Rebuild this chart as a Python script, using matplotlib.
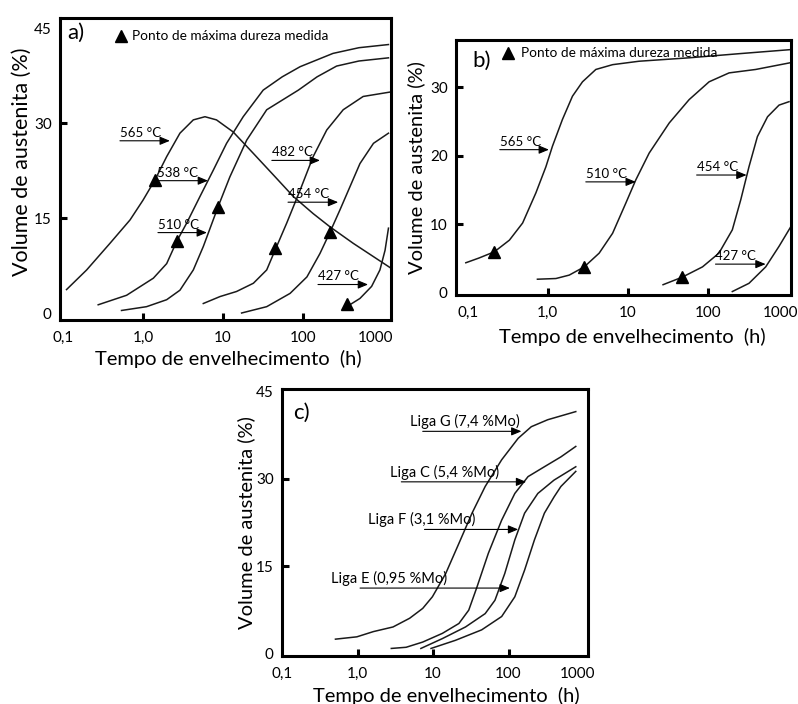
import numpy as np
import matplotlib
matplotlib.use("Agg")
import matplotlib.pyplot as plt
import matplotlib.transforms as mtransforms

plt.rcParams['font.family'] = ['Lato', 'DejaVu Sans']

# ---- dados ----
# a)
a565_x = [0.111, 0.198, 0.387, 0.69, 1.0, 1.41, 1.98, 2.9, 4.26, 5.96, 8.3, 13.4, 24, 42.7, 75.7, 134, 218, 425, 760, 1250]
a565_y = [3.7, 6.8, 11.0, 14.7, 17.8, 21.0, 24.7, 28.4, 30.5, 31.0, 30.5, 28.6, 25.2, 21.8, 18.4, 15.7, 13.6, 11.0, 8.9, 7.1]
a538_x = [0.276, 0.625, 1.35, 1.98, 2.64, 3.52, 5.16, 7.6, 11.1, 17.9, 31.8, 55, 92, 237, 500, 1170]
a538_y = [1.3, 2.8, 5.5, 7.8, 11.3, 14.2, 18.4, 22.6, 26.8, 31.0, 35.2, 37.3, 38.9, 41.0, 41.9, 42.4]
a510_x = [0.54, 1.11, 1.98, 2.9, 4.26, 5.68, 8.7, 12.2, 19.8, 35.2, 87.5, 150, 263, 500, 1170]
a510_y = [0.4, 1.0, 2.1, 3.6, 6.8, 10.5, 16.8, 21.5, 27.3, 32.1, 35.2, 37.3, 39.0, 39.8, 40.3]
a482_x = [5.68, 9.2, 14.8, 24, 35.2, 44.7, 62.6, 92, 134, 198, 318, 565, 1230]
a482_y = [1.5, 2.6, 3.4, 4.7, 6.8, 9.9, 14.2, 19.4, 24.7, 28.9, 32.1, 34.2, 34.9]
a454_x = [17.1, 35.2, 69, 112, 163, 218, 290, 385, 515, 760, 1170]
a454_y = [0.0, 1.0, 3.1, 5.7, 9.4, 12.8, 16.3, 19.9, 23.6, 26.8, 28.4]
a427_x = [1170, 1060, 915, 720, 515, 385]
a427_y = [13.4, 9.9, 6.8, 4.2, 2.3, 1.3]
a_tri_x = [1.41, 2.64, 8.7, 44.7, 218, 352]
a_tri_y = [21.0, 11.3, 16.8, 10.2, 12.8, 1.5]
a_rot = ['565 °C', '538 °C', '510 °C', '482 °C', '454 °C', '427 °C']
a_seta_x0 = [0.516, 1.5, 1.54, 40.8, 65, 154]
a_seta_x1 = [2.17, 6.5, 6.3, 163, 275, 650]
a_seta_y = [27.2, 20.9, 12.7, 24.1, 17.5, 4.5]

# b)
b565_x = [0.094, 0.138, 0.214, 0.33, 0.483, 0.708, 0.944, 1.14, 1.52, 2.03, 2.71, 3.98, 6.45, 13.8, 58.5, 246, 1100]
b565_y = [4.4, 5.1, 6.0, 7.7, 10.2, 14.6, 18.4, 21.4, 25.3, 28.7, 30.8, 32.6, 33.3, 33.8, 34.3, 34.9, 35.5]
b510_x = [0.74, 1.26, 1.85, 2.85, 4.38, 6.45, 9.44, 12.6, 18.5, 33, 58.5, 104, 185, 398, 1100]
b510_y = [2.0, 2.1, 2.6, 3.8, 5.8, 8.7, 13.1, 16.5, 20.4, 24.8, 28.2, 30.8, 32.1, 32.6, 33.6]
b454_x = [27.6, 48, 86, 138, 203, 259, 328, 418, 560, 780, 1040]
b454_y = [1.2, 2.3, 3.8, 5.8, 9.2, 13.6, 18.4, 22.8, 25.7, 27.4, 27.9]
b427_x = [203, 328, 531, 780, 1100]
b427_y = [0.2, 1.4, 3.8, 6.8, 9.7]
b_tri_x = [0.214, 2.85, 48]
b_tri_y = [6.0, 3.8, 2.3]
b_rot = ['565 °C', '510 °C', '454 °C', '427 °C']
b_seta_x0 = [0.25, 2.98, 72.6, 125]
b_seta_x1 = [1.03, 12.6, 306, 530]
b_seta_y = [20.9, 16.2, 17.2, 4.2]

# c)
cG_x = [0.51, 0.98, 1.62, 2.95, 4.9, 7.3, 9.8, 14.7, 22, 32.8, 49, 81, 134, 200, 330, 776]
cG_y = [2.4, 2.8, 3.7, 4.5, 6.0, 7.7, 9.7, 13.7, 18.9, 24.1, 28.7, 33.3, 37.0, 39.0, 40.2, 41.6]
cC_x = [2.8, 4.4, 7.3, 13.3, 22, 29.7, 38.2, 54, 81, 121, 181, 298, 493, 776]
cC_y = [0.8, 1.0, 1.9, 3.4, 5.1, 7.4, 11.4, 17.2, 22.9, 27.5, 30.4, 32.1, 33.8, 35.6]
cF_x = [6.9, 13.3, 26.9, 49, 66, 89, 121, 163, 244, 400, 776]
cF_y = [0.8, 2.5, 4.5, 6.8, 9.1, 13.7, 19.5, 24.1, 27.5, 29.8, 32.1]
cE_x = [9.4, 19.8, 44, 81, 121, 163, 220, 298, 400, 493, 776]
cE_y = [0.8, 2.2, 4.0, 6.3, 9.7, 14.3, 19.5, 24.1, 26.9, 28.7, 31.3]
c_rot = ['Liga G (7,4 %Mo)', 'Liga C (5,4 %Mo)', 'Liga F (3,1 %Mo)', 'Liga E (0,95 %Mo)']
c_texto_x = [4.88, 2.67, 1.39, 0.44]
c_seta_x0 = [7.3, 3.8, 7.7, 1.08]
c_seta_x1 = [148, 171, 134, 104]
c_seta_y = [38.2, 29.5, 21.3, 11.2]

x_ticks = [0.1, 1, 10, 100, 1000]
x_labels = ['0,1', '1,0', '10', '100', '1000']

COR = '#1a1a1a'


def estilo(ax, xlim, ylim, yticks, fs_y=14.5):
    ax.set_xscale('log')
    ax.set_xlim(*xlim)
    ax.set_ylim(*ylim)
    ax.set_xticks(x_ticks)
    ax.set_xticklabels(x_labels)
    ax.minorticks_off()
    ax.set_yticks(yticks)
    ax.set_yticklabels([str(v) for v in yticks])
    for s in ax.spines.values():
        s.set_linewidth(2.2)
    ax.tick_params(direction='in', length=5, width=2.2, labelsize=11)
    ax.tick_params(axis='x', pad=8)
    ax.tick_params(axis='y', pad=6)
    # sem marca nas pontas
    xt = ax.xaxis.get_major_ticks()
    xt[0].tick1line.set_visible(False)
    xt[-1].tick1line.set_visible(False)
    yt = ax.yaxis.get_major_ticks()
    yt[0].tick1line.set_visible(False)
    if yticks[-1] >= ylim[1] - 2:
        yt[-1].tick1line.set_visible(False)
    # rotulo 1000 um pouco para a esquerda
    lab = ax.get_xticklabels()[-1]
    lab.set_transform(lab.get_transform() +
                      mtransforms.ScaledTranslation(-7 / 100, 0, fig.dpi_scale_trans))
    ax.set_xlabel('Tempo de envelhecimento  (h)', fontsize=14.5)
    ax.set_ylabel('Volume de austenita (%)', fontsize=fs_y)


def seta(ax, texto, x0, x1, y, fs=9.5, xt=None):
    ax.annotate('', xy=(x1, y), xytext=(x0, y),
                arrowprops=dict(arrowstyle='-|>,head_length=0.6,head_width=0.25',
                                color='k', lw=0.8, mutation_scale=10,
                                shrinkA=0, shrinkB=0))
    if xt is None:
        xt = x0
    ax.annotate(texto, xy=(xt, y), xytext=(0, 1.5), textcoords='offset points',
                ha='left', va='bottom', fontsize=fs)


fig = plt.figure(figsize=(7.98, 7.04), dpi=100)

# ---- a) ----
ax = fig.add_axes([0.0752, 0.5455, 0.4148, 0.429])
for xs, ys in [(a565_x, a565_y), (a538_x, a538_y), (a510_x, a510_y),
               (a482_x, a482_y), (a454_x, a454_y), (a427_x, a427_y)]:
    ax.plot(xs, ys, color=COR, lw=1.1)
ax.plot(a_tri_x, a_tri_y, '^', color='k', ms=9, ls='none')
for t, x0, x1, y in zip(a_rot, a_seta_x0, a_seta_x1, a_seta_y):
    seta(ax, t, x0, x1, y)
estilo(ax, (0.092, 1259), (-1.1, 46.6), [0, 15, 30, 45], fs_y=15.5)
ax.xaxis.set_label_coords(0.509, -0.099)
ax.yaxis.set_label_coords(-0.085, 0.525)
ax.text(0.021, 0.95, 'a)', transform=ax.transAxes, fontsize=16, va='center')
ax.plot([0.183], [0.94], '^', color='k', ms=8, transform=ax.transAxes)
ax.text(0.218, 0.94, 'Ponto de máxima dureza medida', transform=ax.transAxes,
        fontsize=9.8, va='center')

# ---- b) ----
ax = fig.add_axes([0.5714, 0.581, 0.4198, 0.3622])
for xs, ys in [(b565_x, b565_y), (b510_x, b510_y), (b454_x, b454_y), (b427_x, b427_y)]:
    ax.plot(xs, ys, color=COR, lw=1.1)
ax.plot(b_tri_x, b_tri_y, '^', color='k', ms=9, ls='none')
for t, x0, x1, y in zip(b_rot, b_seta_x0, b_seta_x1, b_seta_y):
    seta(ax, t, x0, x1, y)
estilo(ax, (0.0708, 1100), (-0.3, 36.9), [0, 10, 20, 30])
ax.xaxis.set_label_coords(0.527, -0.13)
ax.yaxis.set_label_coords(-0.093, 0.5)
ax.text(0.048, 0.92, 'b)', transform=ax.transAxes, fontsize=16, va='center')
ax.plot([0.155], [0.949], '^', color='k', ms=8, transform=ax.transAxes)
ax.text(0.194, 0.949, 'Ponto de máxima dureza medida', transform=ax.transAxes,
        fontsize=9.8, va='center')

# ---- c) ----
ax = fig.add_axes([0.3534, 0.0682, 0.3835, 0.3793])
for xs, ys in [(cG_x, cG_y), (cC_x, cC_y), (cF_x, cF_y), (cE_x, cE_y)]:
    ax.plot(xs, ys, color=COR, lw=1.1)
for t, xt, x0, x1, y in zip(c_rot, c_texto_x, c_seta_x0, c_seta_x1, c_seta_y):
    seta(ax, t, x0, x1, y, fs=10.5, xt=xt)
estilo(ax, (0.115, 1128), (-0.5, 45.5), [0, 15, 30, 45])
ax.xaxis.set_label_coords(0.538, -0.115)
ax.yaxis.set_label_coords(-0.088, 0.5)
ax.text(0.036, 0.91, 'c)', transform=ax.transAxes, fontsize=16, va='center')

fig.savefig('out.png', dpi=100)
